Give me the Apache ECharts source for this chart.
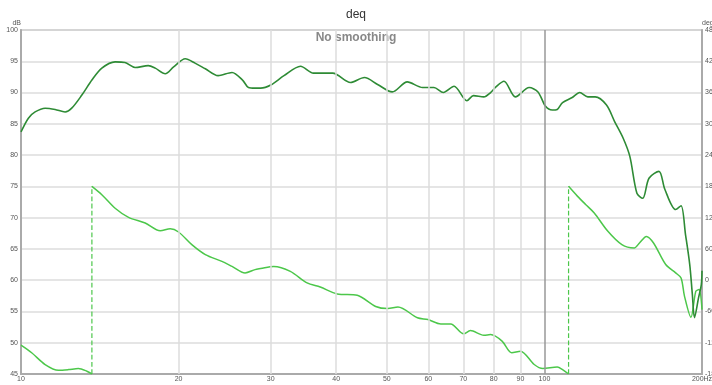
<!DOCTYPE html>
<html><head><meta charset="utf-8">
<script src="https://cdn.jsdelivr.net/npm/echarts@6/dist/echarts.min.js"></script>
<style>html,body{margin:0;padding:0;background:#fff}#c{width:712px;height:385px}</style>
</head><body><div id="c"></div>
<script>
const xTickLabels = [10, 20, 30, 40, 50, 60, 70, 80, 90, 100, 200];
const gridFreqs = [20, 30, 40, 50, 60, 70, 80, 90, 100];
const magFreq = [10, 10.33, 10.64, 11.12, 11.62, 12.14, 12.5, 13.07, 13.66, 14.27, 15.13, 15.8, 16.52, 17.5, 18.05, 18.86, 19.57, 20.6, 21.5, 22.5, 23.8, 25.3, 26.5, 27.2, 28.0, 28.7, 30.0, 31.8, 34.2, 36.2, 39.4, 42.6, 45.3, 48.0, 51.2, 54.7, 58.5, 61.5, 64.1, 67.2, 71.1, 73.2, 76.6, 78.9, 80.8, 83.7, 88.0, 93.5, 97.2, 100.5, 103.5, 105.8, 108.3, 113.0, 116.8, 121, 125, 131.4, 136.1, 141.4, 145.6, 150.2, 154.1, 158.4, 165.5, 169.9, 178.1, 182.4, 186, 189.5, 191.7, 193.5, 197, 199.4, 200];
const magDb = [83.7, 85.9, 86.9, 87.5, 87.3, 86.9, 87.5, 89.6, 92.0, 93.9, 94.9, 94.8, 94.0, 94.3, 93.9, 93.0, 94.1, 95.4, 94.7, 93.8, 92.7, 93.2, 92.0, 90.8, 90.7, 90.7, 91.2, 92.7, 94.2, 93.1, 93.1, 91.6, 92.4, 91.3, 90.1, 91.7, 90.8, 90.8, 90.0, 91.0, 88.7, 89.5, 89.3, 90.0, 90.9, 91.8, 89.3, 90.8, 90.1, 87.8, 87.2, 87.3, 88.4, 89.2, 90.0, 89.3, 89.3, 88.0, 85.4, 82.7, 79.8, 73.9, 73.1, 76.3, 77.4, 74.5, 71.3, 71.9, 67.3, 62.5, 57.7, 54.0, 57.2, 59.3, 61.5];
const phaseFreq = [10, 10.48, 11.12, 11.79, 12.32, 12.87, 13.36, 13.66, 13.66, 13.66, 14.27, 15.13, 16.05, 17.27, 18.45, 19.28, 20.0, 21.2, 22.5, 24.2, 25.3, 26.8, 28.0, 28.7, 30.4, 32.7, 35.2, 37.3, 40.2, 43.9, 47.6, 50.2, 52.5, 57.2, 59.9, 63.4, 66.2, 70.1, 72.2, 76.6, 78.9, 83.0, 86.6, 90.0, 95.6, 99.3, 105.8, 108.3, 111.2, 111.2, 111.2, 115.7, 120.0, 124.5, 132.2, 140.6, 148.4, 151.9, 156.6, 161.6, 170.5, 178.1, 182.4, 185.2, 190.5, 194.6, 197.4, 200];
const phaseDeg = [-124.8, -139.3, -161.8, -172.8, -171.6, -169.5, -174.6, -180, null, 180, 164, 138, 120.5, 109.7, 94.9, 98.7, 92.4, 68.1, 49, 36, 26.4, 13.9, 20.3, 22.2, 26.4, 17.0, -5.3, -13.2, -26.4, -29.0, -50.4, -54.5, -51.6, -72.2, -75.6, -84, -84, -103, -96.6, -105.6, -104.4, -117, -139.3, -136.2, -161.8, -169.5, -166.8, -171.6, -180, null, 180, 160.8, 144.8, 128.9, 93.7, 68.1, 61.8, 71.4, 84, 71.4, 30, 13.9, 4.3, -31, -71.2, -21.4, -18, -56.4];
const wrapFreqs = [13.66, 111.2];

const magData = magFreq.map((f, i) => [f, magDb[i]]);
const phaseData = phaseFreq.map((f, i) => [f, phaseDeg[i] === null ? '-' : phaseDeg[i]]);
const wrapData = [];
wrapFreqs.forEach((f, i) => { if (i) wrapData.push([f, '-']); wrapData.push([f, -180], [f, 180]); });

const lblFont = 'Liberation Sans Narrow, Liberation Sans, sans-serif';
const chart = echarts.init(document.getElementById('c'), null, {renderer: 'canvas'});
chart.setOption({
  animation: false,
  title: {text: 'deq', left: 'center', top: 4, textStyle: {fontSize: 12, fontWeight: 'normal', color: '#333', fontFamily: 'Liberation Sans, sans-serif'}},
  grid: {left: 21, right: 10, top: 30, bottom: 11, show: true, borderColor: '#aaa', borderWidth: 1.5, containLabel: false, outerBoundsMode: 'none'},
  graphic: [{type: 'text', left: 'center', top: 32, style: {text: 'No smoothing', fontSize: 12, fontWeight: 'bold', fill: '#888', fontFamily: 'Liberation Sans, sans-serif'}}],
  xAxis: {
    type: 'log', logBase: 10, min: 10, max: 200,
    splitLine: {show: false}, axisTick: {show: false}, minorTick: {show: false},
    axisLine: {onZero: false, lineStyle: {color: '#aaa', width: 2}},
    axisLabel: {customValues: xTickLabels, formatter: v => (Math.round(v) === 200 ? '200Hz' : String(Math.round(v))), fontSize: 7, color: '#555', margin: 2, fontFamily: lblFont, showMinLabel: true, showMaxLabel: true}
  },
  yAxis: [
    {type: 'value', min: 45, max: 100, interval: 5, position: 'left',
     name: 'dB', nameGap: 1, nameTextStyle: {fontSize: 7, color: '#555', align: 'right', fontFamily: lblFont},
     axisLine: {show: true, onZero: false, lineStyle: {color: '#aaa', width: 2}}, axisTick: {show: false},
     splitLine: {lineStyle: {color: '#ddd', width: 1.5}},
     axisLabel: {fontSize: 7, color: '#555', margin: 3, fontFamily: lblFont}},
    {type: 'value', min: -180, max: 480, interval: 60, position: 'right',
     name: 'deg', nameGap: 1, nameTextStyle: {fontSize: 7, color: '#555', align: 'left', fontFamily: lblFont},
     axisLine: {show: true, onZero: false, lineStyle: {color: '#aaa', width: 2}}, axisTick: {show: false},
     splitLine: {show: false},
     axisLabel: {fontSize: 7, color: '#555', margin: 3, fontFamily: lblFont}}
  ],
  series: [
    {type: 'line', data: [], z: 1, silent: true,
     markLine: {symbol: 'none', silent: true, label: {show: false}, animation: false,
       lineStyle: {color: '#ddd', width: 1.5, type: 'solid'},
       data: gridFreqs.map(f => f === 100 ? {xAxis: f, lineStyle: {color: '#999', width: 1.5, type: 'solid'}} : {xAxis: f})}},
    {type: 'line', name: 'SPL', data: magData, showSymbol: false, smooth: 0.3, z: 4,
     lineStyle: {color: '#2e8b35', width: 1.6}},
    {type: 'line', name: 'Phase', yAxisIndex: 1, data: phaseData, showSymbol: false, smooth: 0.3, z: 3,
     connectNulls: false, lineStyle: {color: '#4cc74a', width: 1.5}},
    {type: 'line', name: 'wrap', yAxisIndex: 1, data: wrapData, showSymbol: false, z: 3,
     connectNulls: false, lineStyle: {color: '#4cc74a', width: 1.2, type: 'dashed'}}
  ]
});
</script></body></html>
